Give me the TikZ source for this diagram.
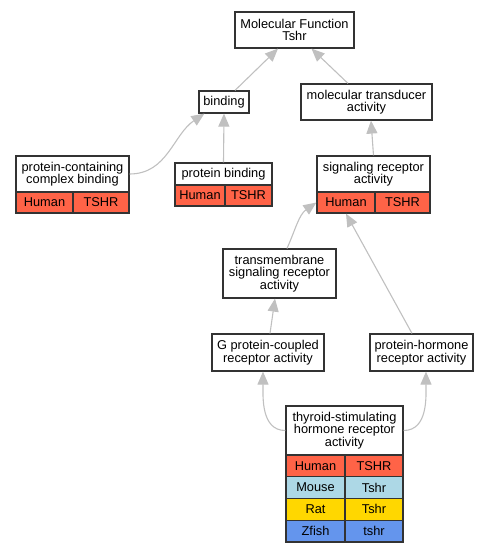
\documentclass[tikz,border=0pt]{standalone}
\usepackage{fontspec}
\setmainfont{Liberation Sans}
\usetikzlibrary{arrows.meta}
\definecolor{human}{HTML}{FF6347}
\definecolor{mouse}{HTML}{ADD8E6}
\definecolor{rat}{HTML}{FFD700}
\definecolor{zfish}{HTML}{6495ED}
\definecolor{edgegray}{HTML}{C0C0C0}
\definecolor{boxline}{HTML}{333333}

\begin{document}
\begin{tikzpicture}[x=1pt,y=1pt]
        \tikzstyle{every node}+=[inner sep=0pt, font=\fontsize{12.8}{12.5}\selectfont]
        \tikzstyle{term}=[draw=boxline, line width=1.2pt, fill=white, align=center]
        \tikzstyle{cell}=[draw=boxline, line width=1.2pt, minimum height=21pt]
        \tikzstyle{isa}=[draw=edgegray, line width=1.1pt, -{Triangle[length=13pt,width=11pt]}]
        \useasboundingbox (0,0) rectangle (488,-552);
        % top
        \node [term, minimum width=119pt, minimum height=36pt] (mf) at (294.5,-30) {Molecular Function\\Tshr};
        \node [term, minimum width=50pt, minimum height=22pt] (bind) at (224,-102) {binding};
        \node [term, minimum width=131pt, minimum height=36pt] (mt) at (366.5,-102) {molecular transducer\\activity};
        % protein-containing complex binding
        \node [term, minimum width=113pt, minimum height=36pt] (pcb) at (72.5,-174) {protein-containing\\complex binding};
        \node [cell, fill=human, minimum width=57pt] (pcbH) at (44.5,-202.5) {Human};
        \node [cell, fill=human, minimum width=56pt] (pcbG) at (101,-202.5) {TSHR};
        % protein binding
        \node [term, minimum width=97pt, minimum height=22pt] (pb) at (223.5,-174) {protein binding};
        \node [cell, fill=human, minimum width=50pt] (pbH) at (200,-195.5) {Human};
        \node [cell, fill=human, minimum width=47pt] (pbG) at (248.5,-195.5) {TSHR};
        % signaling receptor activity
        \node [term, minimum width=113pt, minimum height=36pt] (sra) at (373.5,-174) {signaling receptor\\activity};
        \node [cell, fill=human, minimum width=58pt] (sraH) at (346,-202.5) {Human};
        \node [cell, fill=human, minimum width=55pt] (sraG) at (402.5,-202.5) {TSHR};
        % middle
        \node [term, minimum width=113pt, minimum height=49pt] (tm) at (279.5,-273.5) {transmembrane\\signaling receptor\\activity};
        \node [term, minimum width=112pt, minimum height=37pt] (gpc) at (268,-352.5) {G protein-coupled\\receptor activity};
        \node [term, minimum width=103pt, minimum height=37pt] (phr) at (421.5,-352.5) {protein-hormone\\receptor activity};
        % thyroid-stimulating hormone receptor activity
        \node [term, minimum width=117pt, minimum height=49pt] (tsh) at (344.5,-430.5) {thyroid-stimulating\\hormone receptor\\activity};
        \node [cell, fill=human, minimum width=59pt, minimum height=21.75pt] (tshH) at (315.5,-465.9) {Human};
        \node [cell, fill=human, minimum width=58pt, minimum height=21.75pt] (tshHG) at (374,-465.9) {TSHR};
        \node [cell, fill=mouse, minimum width=59pt, minimum height=21.75pt] (tshM) at (315.5,-487.6) {Mouse};
        \node [cell, fill=mouse, minimum width=58pt, minimum height=21.75pt] (tshMG) at (374,-487.6) {Tshr};
        \node [cell, fill=rat, minimum width=59pt, minimum height=21.75pt] (tshR) at (315.5,-509.4) {Rat};
        \node [cell, fill=rat, minimum width=58pt, minimum height=21.75pt] (tshRG) at (374,-509.4) {Tshr};
        \node [cell, fill=zfish, minimum width=59pt, minimum height=21.75pt] (tshZ) at (315.5,-531.1) {Zfish};
        \node [cell, fill=zfish, minimum width=58pt, minimum height=21.75pt] (tshZG) at (374,-531.1) {tshr};
        % edges
        \draw [isa] ([xshift=11pt]bind.north) -- ([xshift=-16.5pt]mf.south);
        \draw [isa] ([xshift=-18.5pt]mt.north) -- ([xshift=17pt]mf.south);
        \draw [isa] (pcb.east) to[out=0, in=-146] ([xshift=6pt]bind.south west);
        \draw [isa] (pb.north) -- (bind.south);
        \draw [isa] (sra.north) -- ([xshift=4.5pt]mt.south);
        \draw [isa] ([xshift=7.5pt]tm.north) to[out=66, in=-145] (sraH.west);
        \draw [isa] ([xshift=-9.5pt]phr.north) -- (sraH.south);
        \draw [isa] ([xshift=2pt]gpc.north) -- ([xshift=-4.5pt]tm.south);
        \draw [isa] (tsh.west) to[out=180, in=-90] ([xshift=-5pt]gpc.south);
        \draw [isa] (tsh.east) to[out=0, in=-90] ([xshift=4.5pt]phr.south);
\end{tikzpicture}
\end{document}
